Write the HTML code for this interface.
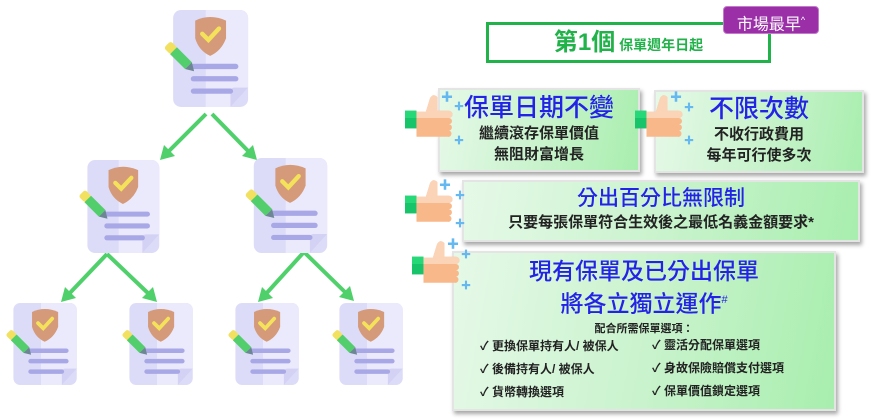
<!DOCTYPE html>
<html><head><meta charset="utf-8">
<style>
body{margin:0;width:872px;height:420px;background:#fff;position:relative;overflow:hidden;font-family:"Liberation Sans","Noto Sans CJK TC",sans-serif}
.a{position:absolute}
.box{position:absolute;border:2px solid #e4e4e4;background:linear-gradient(100deg,#e6f9e8 0%,#c4f2c8 60%,#a8eeae 100%);box-shadow:2px 3px 4px rgba(0,0,0,.35);text-align:center;box-sizing:border-box}
.h{color:#2323e8;font-weight:500}
.t{color:#222;font-weight:700}
</style></head><body>
<svg width="0" height="0" style="position:absolute">
<defs>
<symbol id="doc" viewBox="0 0 100 110">
<rect x="15" y="0" width="85" height="110" rx="9" fill="#dcdcf8"/>
<path d="M52 0 H91 a9 9 0 0 1 9 9 V88 L80 110 H52 Z" fill="#ebe9fc"/>
<path d="M100 88 L80 110 V92 a4 4 0 0 1 4-4Z" fill="#d4d2f4"/>
<path d="M40 12 Q57 4 75 12 V32 Q70 46 57 52 Q44 46 40 32Z" fill="#d49a7a"/>
<path d="M48 27 L55 34 L67 21" stroke="#f4e25a" stroke-width="5" fill="none" stroke-linecap="round"/>
<g stroke="#a9a8e6" stroke-width="6" stroke-linecap="round"><line x1="38" y1="64" x2="86" y2="64"/><line x1="38" y1="78" x2="86" y2="78"/><line x1="38" y1="92" x2="80" y2="92"/></g>
<g transform="rotate(45 20 50)"><rect x="4" y="45" width="11" height="11" rx="3" fill="#f2e060"/><rect x="14" y="45" width="24" height="11" fill="#52cf6c"/><path d="M38 45 L47 50.5 L38 56Z" fill="#6c8694"/></g>
</symbol>
<symbol id="thumb" viewBox="0 0 46 46">
<rect x="0" y="16" width="11" height="17" fill="#17c46a"/>
<rect x="0" y="16" width="11" height="7" fill="#27d878"/>
<path d="M11 17 H20 L24 4 Q27 -1 31 3 L31 16 H42 a3 3 0 0 1 0 7 a3 3 0 0 1 0 6 a3 3 0 0 1 0 6 a3 3 0 0 1-1 6 H11Z" fill="#f9b88a"/>
<path d="M11 17 H20 L24 4 Q27 -1 31 3 L31 16 H42 a3 3 0 0 1 0 7 H11Z" fill="#fbd4b8"/>
</symbol>
</defs></svg>

<svg class="a" style="left:0;top:0" width="420" height="420">
<g fill="none" stroke="#4fd06a" stroke-width="4">
<line x1="206" y1="114" x2="166" y2="154"/><line x1="212" y1="114" x2="251" y2="154"/>
<line x1="107" y1="254" x2="67" y2="296"/><line x1="107" y1="254" x2="151" y2="296"/>
<line x1="304" y1="252" x2="264" y2="296"/><line x1="304" y1="252" x2="348" y2="295"/>
</g>
<g fill="#4fd06a">
<path d="M160 160 L164 145 L175 156Z"/><path d="M257 160 L242 156 L253 145Z"/>
<path d="M61 302 L65 287 L76 298Z"/><path d="M157 302 L142 298 L153 287Z"/>
<path d="M258 302 L262 287 L273 298Z"/><path d="M354 301 L339 297 L350 286Z"/>
</g>
<use href="#doc" x="156" y="10" width="96" height="97"/>
<use href="#doc" x="74" y="160" width="86" height="93"/>
<use href="#doc" x="240" y="158" width="88" height="95"/>
<use href="#doc" x="2" y="303" width="75" height="82"/>
<use href="#doc" x="118" y="303" width="75" height="82"/>
<use href="#doc" x="224" y="303" width="75" height="82"/>
<use href="#doc" x="328" y="303" width="75" height="82"/>
</svg>

<div class="a" style="left:486px;top:22px;width:285px;height:41px;border:3px solid #21b24a;box-sizing:border-box;text-align:center;line-height:36px;color:#21b24a;font-weight:700"><span style="font-size:24px">第1個</span><span style="font-size:14px"> 保單週年日起</span></div>
<div class="a" style="left:723px;top:6px;width:96px;height:28px;background:#9a2fa8;border-radius:4px;border:1px solid #c27acb;box-sizing:border-box;color:#fff;font-size:16px;line-height:26px;text-align:center">市場最早<sup style="font-size:9px">^</sup></div>

<div class="box" style="left:438px;top:88px;width:202px;height:84px"><div class="h" style="font-size:25px;margin-top:3px;line-height:30px">保單日期不變</div><div class="t" style="font-size:15px;line-height:21px">繼續滾存保單價值<br>無阻財富增長</div></div>
<div class="box" style="left:654px;top:90px;width:210px;height:83px"><div class="h" style="font-size:25px;margin-top:2px;line-height:30px">不限次數</div><div class="t" style="font-size:15px;line-height:21px">不收行政費用<br>每年可行使多次</div></div>
<div class="box" style="left:462px;top:180px;width:398px;height:62px"><div class="h" style="font-size:21px;margin-top:3px;line-height:27px">分出百分比無限制</div><div class="t" style="font-size:15px;line-height:22px">只要每張保單符合生效後之最低名義金額要求*</div></div>
<div class="box" style="left:452px;top:251px;width:384px;height:160px"><div class="h" style="font-size:23px;margin-top:4px;line-height:29px">現有保單及已分出保單<br>將各立獨立運作<sup style="font-size:11px">#</sup></div><div class="t" style="font-size:11px;line-height:16px;margin-top:2px">配合所需保單選項：</div>
<div class="t a" style="left:26px;top:82px;font-size:12px;line-height:23px;text-align:left">✓ 更換保單持有人/ 被保人<br>✓ 後備持有人/ 被保人<br>✓ 貨幣轉換選項</div>
<div class="t a" style="left:198px;top:81px;font-size:12px;line-height:23px;text-align:left">✓ 靈活分配保單選項<br>✓ 身故保險賠償支付選項<br>✓ 保單價值鎖定選項</div></div>

<svg class="a" style="left:0;top:0" width="872" height="420">
<use href="#thumb" x="405" y="94" width="48" height="48"/>
<use href="#thumb" x="635" y="94" width="48" height="48"/>
<use href="#thumb" x="405" y="179" width="48" height="48"/>
<use href="#thumb" x="412" y="240" width="48" height="48"/>
<g fill="#66b8f0" font-size="12" font-weight="700">
<text x="441" y="101">✚</text><text x="454" y="110" font-size="10">✚</text><text x="454" y="144" font-size="10">✚</text>
<text x="670" y="101">✚</text><text x="684" y="111" font-size="10">✚</text><text x="684" y="144" font-size="10">✚</text>
<text x="439" y="189">✚</text><text x="455" y="199" font-size="10">✚</text><text x="455" y="227" font-size="10">✚</text>
<text x="447" y="248">✚</text><text x="461" y="258" font-size="10">✚</text><text x="461" y="289" font-size="10">✚</text>
</g>
</svg>
</body></html>
